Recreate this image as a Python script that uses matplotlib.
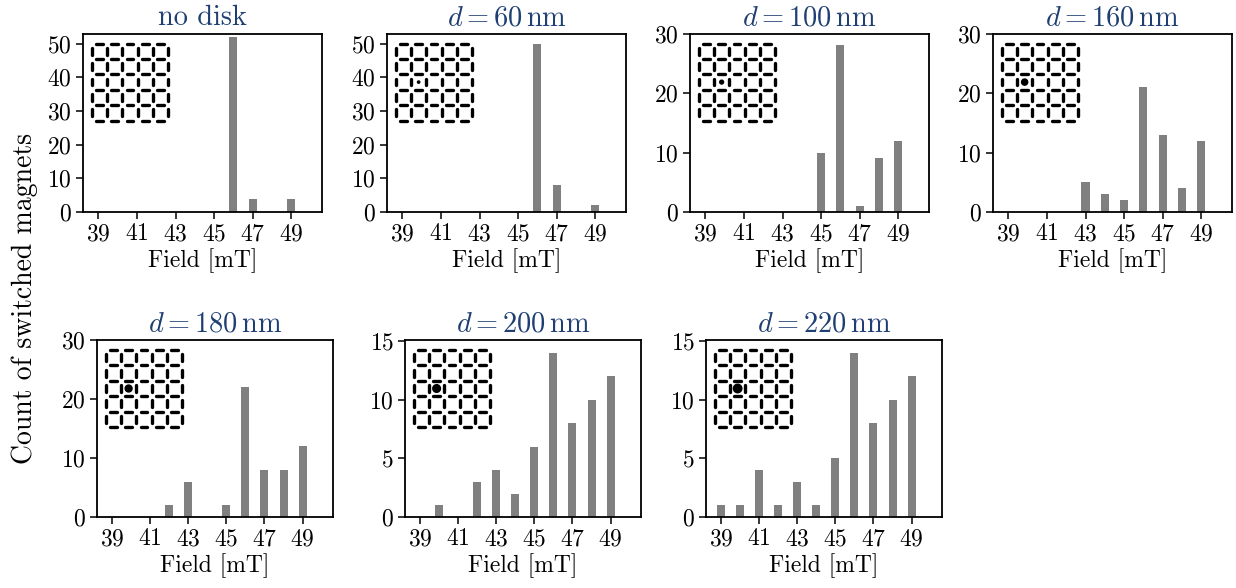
import numpy as np
import matplotlib
matplotlib.use("Agg")
import matplotlib.pyplot as plt
from matplotlib.patches import Circle

plt.rcParams['font.family'] = 'serif'
plt.rcParams['font.serif'] = ['cmr10', 'DejaVu Serif']
plt.rcParams['mathtext.fontset'] = 'cm'
plt.rcParams['axes.formatter.use_mathtext'] = True
plt.rcParams['font.size'] = 17

# Switching counts per field step (39..49 mT), one list per disk diameter
fields = [39, 40, 41, 42, 43, 44, 45, 46, 47, 48, 49]
diameters = [None, 60, 100, 160, 180, 200, 220]
counts_no_disk = [0, 0, 0, 0, 0, 0, 0, 52, 4, 0, 4]
counts_d60 = [0, 0, 0, 0, 0, 0, 0, 50, 8, 0, 2]
counts_d100 = [0, 0, 0, 0, 0, 0, 10, 28, 1, 9, 12]
counts_d160 = [0, 0, 0, 0, 5, 3, 2, 21, 13, 4, 12]
counts_d180 = [0, 0, 0, 2, 6, 0, 2, 22, 8, 8, 12]
counts_d200 = [0, 1, 0, 3, 4, 2, 6, 14, 8, 10, 12]
counts_d220 = [1, 1, 4, 1, 3, 1, 5, 14, 8, 10, 12]
all_counts = [counts_no_disk, counts_d60, counts_d100, counts_d160,
              counts_d180, counts_d200, counts_d220]
y_tops = [53, 53, 30, 30, 30, 15.1, 15.1]
y_steps = [10, 10, 10, 10, 10, 5, 5]

lattice_nm = 400   # square lattice spacing used to scale the disk
n_cells = 5
disk_cell = (1.5, 2.5)

W, H = 1236, 588
title_color = '#1f3f73'

fig = plt.figure(figsize=(W / 100, H / 100), dpi=100)

# axes boxes in pixels: (left, top, width, height)
boxes = [(83, 33.6, 239, 178.4), (387, 33.6, 239, 178.4),
         (690, 33.6, 239, 178.4), (993, 33.6, 239, 178.4),
         (97, 340, 236, 177), (405, 340, 236, 177), (706, 340, 236, 177)]


def draw_lattice(iax, d):
    a0, a1 = 0.28, 0.72
    for i in range(n_cells + 1):
        for j in range(n_cells):
            iax.plot([j + a0, j + a1], [i, i], color='black', lw=2.4,
                     solid_capstyle='round')
            iax.plot([i, i], [j + a0, j + a1], color='black', lw=2.4,
                     solid_capstyle='round')
    if d is not None:
        iax.add_patch(Circle(disk_cell, d / 2 / lattice_nm, color='black'))
    iax.set_xlim(-0.2, n_cells + 0.2)
    iax.set_ylim(-0.2, n_cells + 0.2)
    iax.axis('off')


for k, (d, counts) in enumerate(zip(diameters, all_counts)):
    left, top, w, h = boxes[k]
    ax = fig.add_axes([left / W, 1 - (top + h) / H, w / W, h / H])
    ax.bar(fields, counts, width=0.42, color='#808080')
    ax.set_xlim(38.2, 50.6)
    ax.set_ylim(0, y_tops[k])
    ax.set_xticks(fields[::2])
    ax.set_yticks(np.arange(0, y_tops[k] + 0.5, y_steps[k]))
    ax.tick_params(length=5, width=1.1, pad=3)
    for s in ax.spines.values():
        s.set_linewidth(1.3)
    ax.set_xlabel('Field [mT]', labelpad=2)
    if d is None:
        ax.set_title('no disk', color=title_color, pad=6)
    else:
        ax.set_title(r'$d = %d\,\mathrm{nm}$' % d, color=title_color, pad=6)

    iax = fig.add_axes([(left + 5.5) / W, 1 - (top + 90) / H, 83 / W, 83 / H])
    iax.patch.set_alpha(0)
    draw_lattice(iax, d)

fig.text(25 / W, 1 - 298 / H, 'Count of switched magnets', rotation=90,
         ha='center', va='center', fontsize=20)

fig.savefig('out.png', dpi=100)
